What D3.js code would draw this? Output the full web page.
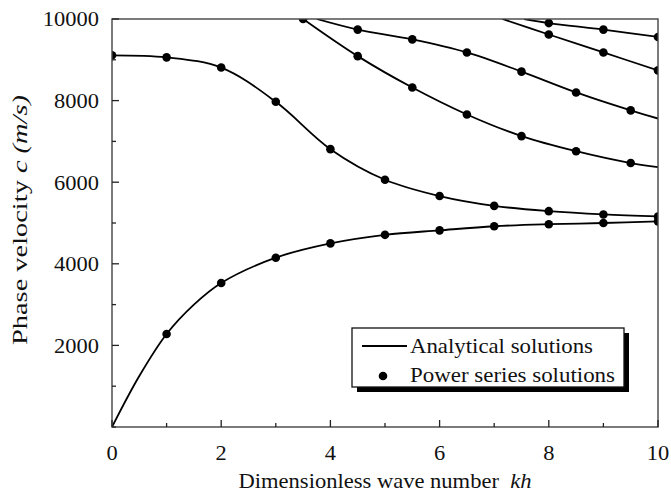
<!DOCTYPE html>
<html>
<head>
<meta charset="utf-8">
<script src="https://cdn.jsdelivr.net/npm/d3@7/dist/d3.min.js"></script>
<style>
  html, body { margin: 0; padding: 0; background: #fff; }
  svg { display: block; }
  text { font-family: "Liberation Serif", "Times New Roman", serif; fill: #111; }
</style>
</head>
<body>
<svg id="chart" width="671" height="493"></svg>
<script>
// Dispersion curves: phase velocity c (m/s) against dimensionless wave number kh.
// Analytical solutions (solid curves), as [kh, c] pairs.
const analytic1 = [[0, 0], [0.5, 1250], [1, 2280], [1.5, 3000], [2, 3530], [3, 4150], [4, 4500], [5, 4710], [6, 4820], [7, 4920], [8, 4970], [9, 5000], [10, 5040]];
const analytic2 = [[0, 9110], [1, 9060], [2, 8810], [3, 7970], [4, 6810], [5, 6060], [6, 5660], [7, 5420], [8, 5290], [9, 5210], [10, 5160]];
const analytic3 = [[3.5, 10000], [4.5, 9090], [5.5, 8320], [6.5, 7660], [7.5, 7130], [8.5, 6760], [9.5, 6470], [10, 6370]];
const analytic4 = [[3.75, 10000], [4.5, 9740], [5.5, 9500], [6.5, 9180], [7.5, 8710], [8.5, 8200], [9.5, 7760], [10, 7560]];
const analytic5 = [[7.15, 10000], [8, 9620], [9, 9180], [10, 8740]];
const analytic6 = [[7.55, 10000], [8, 9900], [9, 9740], [10, 9560]];

// Power series solutions (dots).
const khWhole = [0, 1, 2, 3, 4, 5, 6, 7, 8, 9, 10];
const series1 = [null, 2280, 3530, 4150, 4500, 4710, 4820, 4920, 4970, 5000, 5040];
const series2 = [9110, 9060, 8810, 7970, 6810, 6060, 5660, 5420, 5290, 5210, 5160];
const khHalf = [3.5, 4.5, 5.5, 6.5, 7.5, 8.5, 9.5];
const series3 = [10000, 9090, 8320, 7660, 7130, 6760, 6470];
const series4 = [null, 9740, 9500, 9180, 8710, 8200, 7760];
const khLate = [8, 9, 10];
const series5 = [9620, 9180, 8740];
const series6 = [9900, 9740, 9560];

// Axis ticks and labels.
const xTicks = [0, 1, 2, 3, 4, 5, 6, 7, 8, 9, 10];
const xLabelled = [0, 2, 4, 6, 8, 10];
const yTicks = [0, 1000, 2000, 3000, 4000, 5000, 6000, 7000, 8000, 9000, 10000];
const yLabelled = [2000, 4000, 6000, 8000, 10000];
const legendLabels = ["Analytical solutions", "Power series solutions"];

const svg = d3.select("#chart");
const m = { left: 112, right: 658, top: 19, bottom: 427 };
const FS = 21;

const x = d3.scaleLinear().domain([0, 10]).range([m.left, m.right]);
const y = d3.scaleLinear().domain([0, 10000]).range([m.bottom, m.top]);

svg.append("defs").append("clipPath").attr("id", "plotClip")
  .append("rect")
  .attr("x", m.left).attr("y", m.top)
  .attr("width", m.right - m.left).attr("height", m.bottom - m.top);

const plot = svg.append("g").attr("clip-path", "url(#plotClip)");

const line = d3.line()
  .x(d => x(d[0]))
  .y(d => y(d[1]))
  .curve(d3.curveCatmullRom.alpha(0.5));

[analytic1, analytic2, analytic3, analytic4, analytic5, analytic6].forEach(curve => {
  plot.append("path")
    .attr("d", line(curve))
    .attr("fill", "none")
    .attr("stroke", "#000")
    .attr("stroke-width", 1.8);
});

const dotSets = [
  [khWhole, series1], [khWhole, series2],
  [khHalf, series3], [khHalf, series4],
  [khLate, series5], [khLate, series6]
];
dotSets.forEach(([ks, vs]) => {
  const pts = ks.map((k, i) => [k, vs[i]]).filter(p => p[1] !== null);
  plot.selectAll(null).data(pts).enter().append("circle")
    .attr("cx", d => x(d[0]))
    .attr("cy", d => y(d[1]))
    .attr("r", 4.3)
    .attr("fill", "#000");
});

// Frame
svg.append("rect")
  .attr("x", m.left).attr("y", m.top)
  .attr("width", m.right - m.left).attr("height", m.bottom - m.top)
  .attr("fill", "none").attr("stroke", "#444").attr("stroke-width", 1.4);

// Inward ticks
const axisG = svg.append("g").attr("stroke", "#222").attr("stroke-width", 1.3);
xTicks.forEach(t => {
  const len = xLabelled.includes(t) ? 7 : 4;
  axisG.append("line")
    .attr("x1", x(t)).attr("x2", x(t))
    .attr("y1", m.bottom).attr("y2", m.bottom - len);
});
yTicks.forEach(t => {
  const len = yLabelled.includes(t) ? 7 : 4;
  axisG.append("line")
    .attr("x1", m.left).attr("x2", m.left + len)
    .attr("y1", y(t)).attr("y2", y(t));
});

// Tick labels (slightly widened serif digits)
svg.selectAll(null).data(xLabelled).enter().append("text")
  .attr("transform", d => `translate(${x(d)},460) scale(1.07,1)`)
  .attr("text-anchor", "middle")
  .attr("font-size", FS)
  .text(d => d);

svg.selectAll(null).data(yLabelled).enter().append("text")
  .attr("transform", d => `translate(99,${y(d)}) scale(1.07,1)`)
  .attr("dy", "0.35em")
  .attr("text-anchor", "end")
  .attr("font-size", FS)
  .text(d => d);

// Axis titles
const xt = svg.append("text")
  .attr("x", (m.left + m.right) / 2).attr("y", 488)
  .attr("text-anchor", "middle").attr("font-size", FS)
  .attr("textLength", 293).attr("lengthAdjust", "spacingAndGlyphs");
xt.append("tspan").text("Dimensionless wave number\u00a0\u00a0");
xt.append("tspan").attr("font-style", "italic").text("kh");

const yt = svg.append("text")
  .attr("transform", "translate(27,220) rotate(-90)")
  .attr("text-anchor", "middle").attr("font-size", FS)
  .attr("textLength", 250).attr("lengthAdjust", "spacingAndGlyphs");
yt.append("tspan").text("Phase velocity ");
yt.append("tspan").attr("font-style", "italic").text("c (m/s)");

// Legend with drop shadow
const lg = svg.append("g");
lg.append("rect")
  .attr("x", 357).attr("y", 333).attr("width", 272).attr("height", 59)
  .attr("fill", "#000");
lg.append("rect")
  .attr("x", 352).attr("y", 328).attr("width", 272).attr("height", 59)
  .attr("fill", "#fff").attr("stroke", "#111").attr("stroke-width", 1.3);
lg.append("line")
  .attr("x1", 362).attr("x2", 407).attr("y1", 346).attr("y2", 346)
  .attr("stroke", "#000").attr("stroke-width", 1.8);
lg.append("circle").attr("cx", 383).attr("cy", 376).attr("r", 4.3).attr("fill", "#000");
const legWidths = [183, 205];
lg.selectAll("text.leg").data(legendLabels).enter().append("text")
  .attr("class", "leg")
  .attr("x", 410).attr("y", (d, i) => 353 + i * 29)
  .attr("font-size", FS)
  .attr("textLength", (d, i) => legWidths[i]).attr("lengthAdjust", "spacingAndGlyphs")
  .text(d => d);
</script>
</body>
</html>
